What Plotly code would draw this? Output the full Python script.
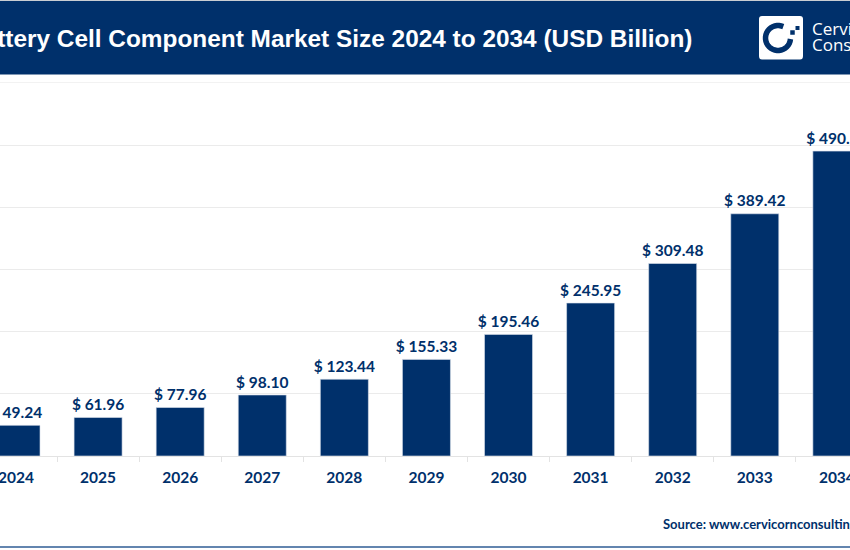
import math
import plotly.graph_objects as go

years = ["2024","2025","2026","2027","2028","2029","2030","2031","2032","2033","2034"]
values = [49.24,61.96,77.96,98.10,123.44,155.33,195.46,245.95,309.48,389.42,490.16]
title = "Battery Cell Component Market Size 2024 to 2034 (USD Billion)"
source = "Source: www.cervicornconsulting.com"
NAVY = "#00306B"
W, H = 850, 550
TOP = 505
def px(x): return x / W
def py(y): return 1 - y / H

fig = go.Figure()
fig.add_trace(go.Bar(
    x=years, y=values, marker=dict(color=NAVY, line=dict(color="#DCE3EC", width=0.6)),
    hoverinfo="skip", width=0.585,
))
fig.add_trace(go.Scatter(
    x=years, y=values, mode="markers+text", cliponaxis=False,
    marker=dict(size=4, opacity=0),
    text=[f"$ {v:.2f}" for v in values], textposition="top center",
    textfont=dict(family="Lato", size=15.5, color=NAVY, weight="bold"),
    hoverinfo="skip",
))

def paper(**k):
    return dict(xref="paper", yref="paper", **k)

shapes = [
    paper(type="rect", x0=0, x1=1, y0=py(1), y1=py(74.5), fillcolor=NAVY, line_width=0, layer="below"),
    paper(type="rect", x0=0, x1=1, y0=py(0), y1=py(1), fillcolor="#C9CDD2", line_width=0, layer="below"),
    paper(type="line", x0=0, x1=1, y0=py(82.5), y1=py(82.5), line=dict(color="#F2F2F2", width=1), layer="below"),
    paper(type="line", x0=0, x1=1, y0=py(547), y1=py(547), line=dict(color="#2F5C94", width=1.5), layer="below"),
    paper(type="path", layer="above", fillcolor="white", line_width=0,
          path=" ".join([f"M{px(762)},{py(16)}", f"L{px(800)},{py(16)}", f"Q{px(803)},{py(16)} {px(803)},{py(19)}",
                         f"L{px(803)},{py(56)}", f"Q{px(803)},{py(59.5)} {px(800)},{py(59.5)}", f"L{px(762)},{py(59.5)}",
                         f"Q{px(759)},{py(59.5)} {px(759)},{py(56)}", f"L{px(759)},{py(19)}", f"Q{px(759)},{py(16)} {px(762)},{py(16)}", "Z"])),
]
# logo ring arc (screen angles, clockwise from the right)
pts = [(778 + 12.5 * math.cos(math.radians(d)), 38 + 12.5 * math.sin(math.radians(d))) for d in range(5, 300, 10)]
shapes.append(paper(type="path", layer="above", line=dict(color=NAVY, width=5.5),
    path="M" + " L".join(f"{px(x)},{py(y)}" for x, y in pts)))
for (x, y, s) in [(797.5, 28, 4), (792.5, 32.5, 4.5)]:
    shapes.append(paper(type="rect", layer="above", fillcolor=NAVY, line_width=0,
                        x0=px(x-s/2), x1=px(x+s/2), y0=py(y-s/2), y1=py(y+s/2)))

annotations = [
    paper(text=f"<b>{title}</b>", x=px(694), y=py(38), xanchor="right", yanchor="middle",
          showarrow=False, font=dict(family="Liberation Sans", size=24.4, color="white")),
    paper(text="Cervicorn", x=px(810), y=py(28.5), xanchor="left", yanchor="middle", height=15,
          showarrow=False, font=dict(family="Open Sans", size=17, color="white")),
    paper(text="Consulting", x=px(810), y=py(44.5), xanchor="left", yanchor="middle", height=15,
          showarrow=False, font=dict(family="Open Sans", size=17, color="white")),
    paper(text=f"<b>{source}</b>", x=px(661), y=py(524), xanchor="left", yanchor="middle",
          showarrow=False, font=dict(family="Lato", size=13, color=NAVY)),
]

fig.update_layout(
    width=W, height=H, margin=dict(l=0, r=0, t=0, b=0), paper_bgcolor="white", plot_bgcolor="white",
    showlegend=False, shapes=shapes, annotations=annotations,
    xaxis=dict(type="category", range=[-0.195, 10.16], tickson="boundaries", ticks="outside", ticklen=5,
               tickcolor="#E3E3E3", linecolor="#E3E3E3", linewidth=1, showline=True, showgrid=False,
               automargin=False, domain=[0, 1], ticklabelstandoff=7,
               tickfont=dict(family="Lato", size=15.5, color=NAVY, weight="bold")),
    yaxis=dict(range=[0, TOP], tick0=0, dtick=100, showticklabels=False, gridcolor="#EBEBEB", gridwidth=1, zeroline=False,
               ticks="", automargin=False, domain=[py(456), py(456 - 311 * TOP / 500)]),
)
fig.write_html("out.html", config={"displayModeBar": False},
               post_script="document.body.style.margin='0';document.documentElement.style.overflow='hidden';window.dispatchEvent(new Event('resize'));")
